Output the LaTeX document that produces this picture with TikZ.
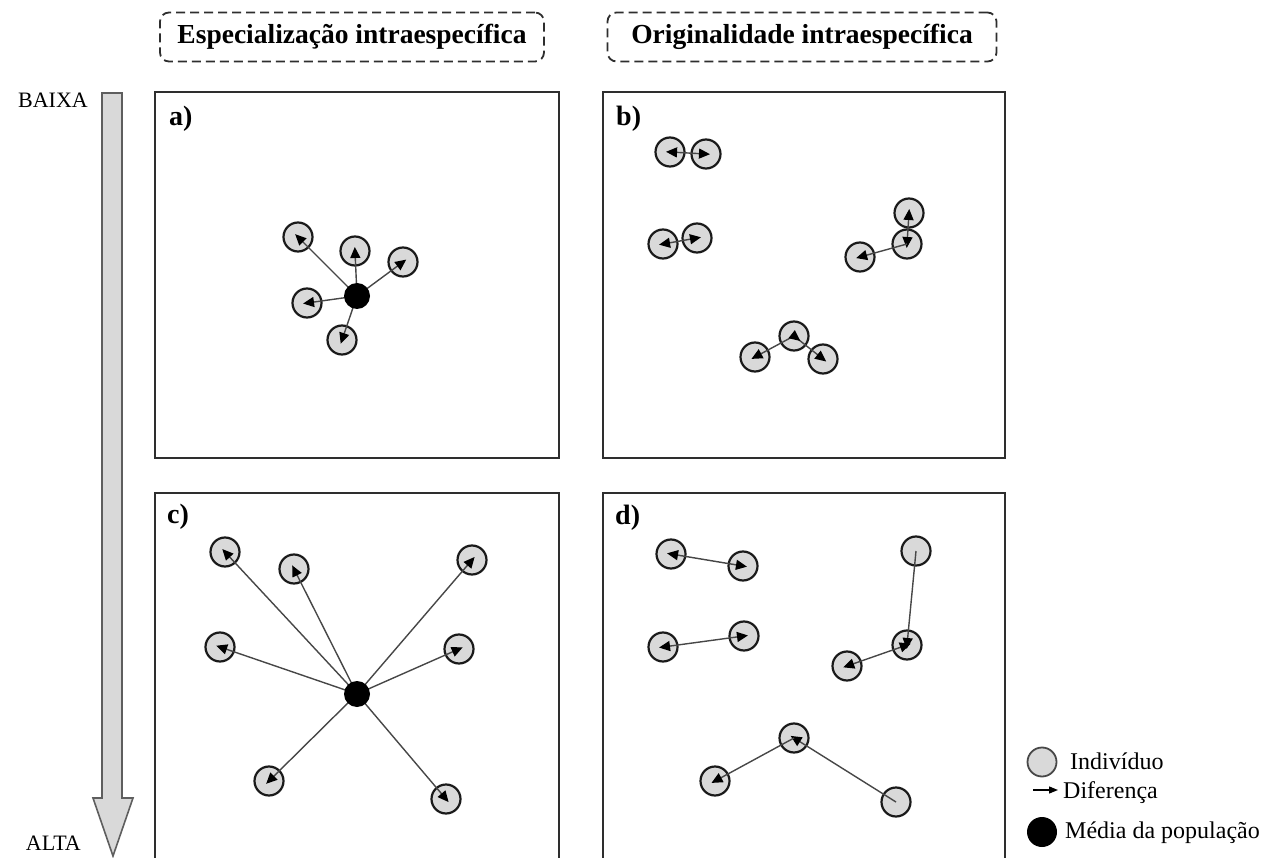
\documentclass[tikz,border=0pt]{standalone}
\usepackage{fontspec}
\setmainfont{Liberation Serif}
\usetikzlibrary{arrows.meta,calc}
\pgfdeclarelayer{fg}
\pgfsetlayers{main,fg}
\definecolor{indfill}{HTML}{D9D9D9}
\definecolor{edgec}{HTML}{1A1A1A}
\definecolor{linec}{HTML}{474747}
\definecolor{boxc}{HTML}{2E2E2E}
\definecolor{bigarrow}{HTML}{5E5E5E}
\begin{document}
\begin{tikzpicture}[x=1pt,y=-1pt,
 ind/.style={circle,draw=edgec,line width=2.2pt,fill=indfill,minimum size=29pt,inner sep=0pt},
 meanpt/.style={circle,fill=black,minimum size=26pt,inner sep=0pt},
 tipk/.tip={Triangle[length=11pt,width=10pt,color=black]},
 diff/.style={draw=linec,line width=1.4pt,-tipk,shorten >=-4pt},
 ddiff/.style={draw=linec,line width=1.4pt,tipk-tipk,shorten >=-4pt,shorten <=-4pt},
 panel/.style={draw=boxc,line width=2pt},
 header/.style={draw=boxc,dash pattern=on 9pt off 5pt,rounded corners=9pt,line width=1.8pt,minimum height=49pt,inner sep=0pt,font=\fontsize{27.5}{31}\selectfont\bfseries},
 plabel/.style={font=\fontsize{28}{32}\selectfont\bfseries,anchor=base west,inner sep=0pt},
 side/.style={font=\fontsize{22}{26}\selectfont,inner sep=0pt},
 legtext/.style={font=\fontsize{24}{28}\selectfont,anchor=base west,inner sep=0pt},
 ]
\useasboundingbox (0,0) rectangle (1269,858);
\clip (0,0) rectangle (1269,858);

% headers
\node[header,minimum width=384pt] (h1) at (352,37) {Especialização intraespecífica};
\node[header,minimum width=389pt] (h2) at (802,37) {Originalidade intraespecífica};

% big gradient arrow
\draw[fill=indfill,draw=bigarrow,line width=1.6pt,line join=miter]
  (102,93) -- (122,93) -- (122,798) -- (133,798) -- (113,856) -- (93,798) -- (102,798) -- cycle;
\node[side,anchor=base east] (baixa) at (88,108) {BAIXA};
\node[side,anchor=base east] (alta) at (81,850) {ALTA};

% panels
\draw[panel] (155,92) rectangle (559,458);
\draw[panel] (603,92) rectangle (1005,458);
\draw[panel] (155,493) rectangle (559,890);
\draw[panel] (603,493) rectangle (1005,890);
\node[plabel] (la) at (169,126) {a)};
\node[plabel] (lb) at (616,126) {b)};
\node[plabel] (lc) at (167,523) {c)};
\node[plabel] (ld) at (615,524) {d)};

% ---- panel a
\node[ind] (a1) at (298,237) {};
\node[ind] (a2) at (355,251) {};
\node[ind] (a3) at (403,262) {};
\node[ind] (a4) at (307,303) {};
\node[ind] (a5) at (342,340) {};
\begin{pgfonlayer}{fg}
\node[meanpt] (ma) at (357,296) {};
\end{pgfonlayer}
\foreach \i in {a1,a2,a3,a4,a5} \draw[diff] (ma.center) -- (\i.center);

% ---- panel c
\node[ind] (c1) at (225,552) {};
\node[ind] (c2) at (294,569) {};
\node[ind] (c3) at (472,560) {};
\node[ind] (c4) at (220,647) {};
\node[ind] (c5) at (459,649) {};
\node[ind] (c6) at (269,781) {};
\node[ind] (c7) at (446,799) {};
\begin{pgfonlayer}{fg}
\node[meanpt] (mc) at (357,694) {};
\end{pgfonlayer}
\foreach \i in {c1,c2,c3,c4,c5,c6,c7} \draw[diff] (mc.center) -- (\i.center);

% ---- panel b
\node[ind] (b1) at (670,152) {};
\node[ind] (b2) at (706,154) {};
\node[ind] (b3) at (663,244) {};
\node[ind] (b4) at (697,238) {};
\node[ind] (b5) at (909,213) {};
\node[ind] (b6) at (907,244) {};
\node[ind] (b7) at (860,257) {};
\node[ind] (b8) at (794,336) {};
\node[ind] (b9) at (755,357) {};
\node[ind] (b10) at (823,359) {};
\draw[ddiff] (b1.center) -- (b2.center);
\draw[ddiff] (b3.center) -- (b4.center);
\draw[ddiff] (b5.center) -- (b6.center);
\draw[diff] (b6.center) -- (b7.center);
\draw[diff] (b8.center) -- (b9.center);
\draw[diff] (b8.center) -- (b10.center);
\coordinate (b8t) at ($(b8.center)!8pt!(b10.center)$);
\draw[diff,shorten >=0pt] (b8.center) -- (b8t);

% ---- panel d
\node[ind] (d1) at (671,554) {};
\node[ind] (d2) at (743,566) {};
\node[ind] (d3) at (663,647) {};
\node[ind] (d4) at (744,636) {};
\node[ind] (d5) at (916,551) {};
\node[ind] (d6) at (907,645) {};
\node[ind] (d7) at (847,666) {};
\node[ind] (d8) at (794,738) {};
\node[ind] (d9) at (715,781) {};
\node[ind] (d10) at (896,802) {};
\draw[ddiff] (d1.center) -- (d2.center);
\draw[ddiff] (d3.center) -- (d4.center);
\draw[diff] (d5.center) -- (d6.center);
\draw[ddiff] (d6.center) -- (d7.center);
\draw[diff] (d10.center) -- (d8.center);
\draw[diff] (d8.center) -- (d9.center);

% ---- legend
\node[circle,draw=edgec!80,line width=1.8pt,fill=indfill,minimum size=29pt,inner sep=0pt] (legi) at (1042,762) {};
\node[legtext] (legit) at (1070,769) {Indivíduo};
\coordinate (legA) at (1033,790);
\coordinate (legB) at (1058,790);
\draw[line width=1.3pt,-{Triangle[length=9pt,width=7pt]}] (legA) -- (legB);
\node[legtext] (legdt) at (1063,798) {Diferença};
\node[circle,fill=black,minimum size=30pt,inner sep=0pt] (legm) at (1042,832) {};
\node[legtext] (legmt) at (1065,838) {Média da população};
\end{tikzpicture}
\end{document}
